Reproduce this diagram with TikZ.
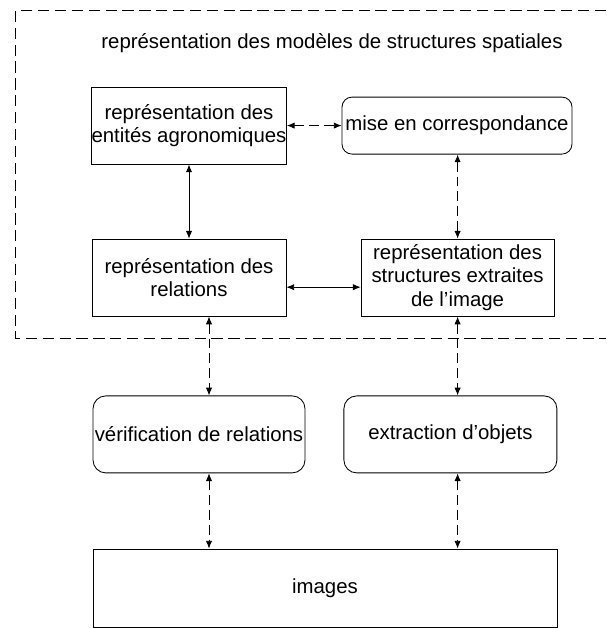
\documentclass[tikz,border=0pt]{standalone}
\usepackage{fontspec}
\setmainfont{Liberation Sans}
\usetikzlibrary{arrows.meta}

\begin{document}
\begin{tikzpicture}[
    every node/.style = {font=\fontsize{14.5}{16.8}\selectfont, align=center, inner sep=0pt},
    carre/.style = {draw, line width=0.6pt, minimum width=4.85cm, minimum height=1.925cm},
    arrondi/.style = {draw, line width=0.6pt, rounded corners=0.25cm, minimum height=1.925cm},
    lien/.style = {line width=0.6pt, {Latex[length=5.5pt,width=4.5pt]}-{Latex[length=5.5pt,width=4.5pt]}},
    tirets/.style = {dash pattern=on 7pt off 3.5pt}
  ]
    \useasboundingbox (0,0) rectangle (15.15,15.7);

    % cadre du modele
    \draw[line width=0.6pt, dash pattern=on 8pt off 4pt]
      (15.15,15.43) -- (0.39,15.43) -- (0.39,7.25) -- (15.15,7.25);
    \node (titre) at (8.3,14.62) {représentation des modèles de structures spatiales};

    \node[carre] (entites) at (4.725,12.56) {représentation des\\entités agronomiques};
    \node[arrondi, minimum width=5.75cm, minimum height=1.425cm] (corresp) at (11.425,12.56) {mise en correspondance};
    \node[carre] (relations) at (4.725,8.76) {représentation des\\relations};
    \node[carre, minimum width=4.825cm] (structures) at (11.44,8.76) {représentation des\\structures extraites\\de l’image};

    \node[arrondi, minimum width=5.3cm, rounded corners=0.32cm] (verif) at (4.975,4.84) {vérification de relations};
    \node[arrondi, minimum width=5.325cm, rounded corners=0.32cm] (extract) at (11.26,4.84) {extraction d’objets};
    \node[carre, minimum width=11.6cm, minimum height=1.95cm] (images) at (8.125,1.0) {images};

    % liens
    \draw[lien, tirets] (entites.east) -- (corresp.west);
    \draw[lien] (entites.south) -- (relations.north);
    \draw[lien] ([yshift=-0.24cm]relations.east) -- ([yshift=-0.24cm]structures.west);
    \draw[lien, tirets] (corresp.south -| structures.north) -- (structures.north);

    \draw[lien, tirets] ([xshift=0.5cm]relations.south) -- ([xshift=0.5cm]relations.south |- verif.north);
    \draw[lien, tirets] (structures.south) -- (structures.south |- extract.north);
    \draw[lien, tirets] ([xshift=0.5cm]relations.south |- verif.south) -- ([xshift=0.5cm]relations.south |- images.north);
    \draw[lien, tirets] (structures.south |- extract.south) -- (structures.south |- images.north);
  \end{tikzpicture}
\end{document}
